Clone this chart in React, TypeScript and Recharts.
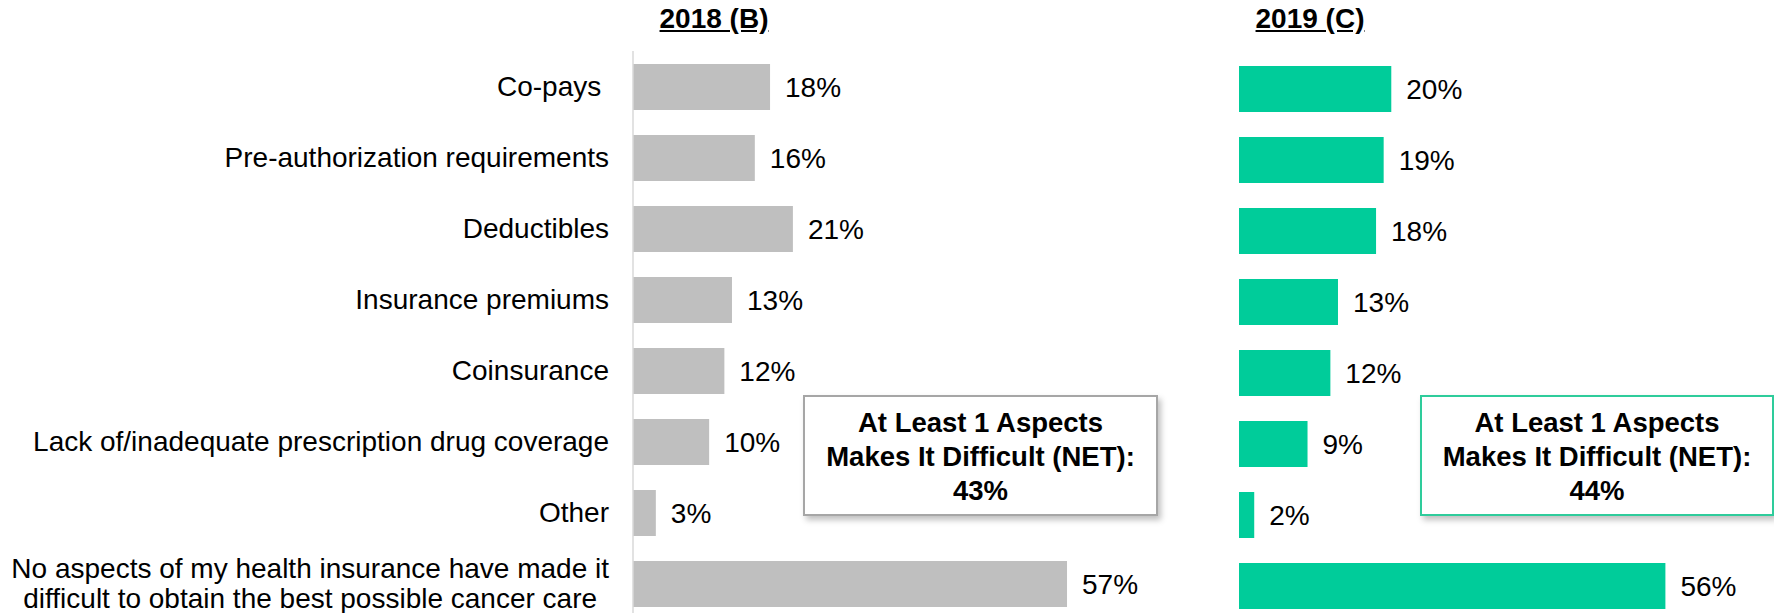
import { Bar, BarChart, LabelList, XAxis, YAxis } from "recharts";

const FONT = '"Liberation Sans", Arial, Helvetica, sans-serif';
const FS = 28;
const BOX_FS = 27.5;

// categories (multi-line label split by \n)
const categories = [
  "Co-pays ",
  "Pre-authorization requirements",
  "Deductibles",
  "Insurance premiums",
  "Coinsurance",
  "Lack of/inadequate prescription drug coverage",
  "Other",
  "No aspects of my health insurance have made it\ndifficult to obtain the best possible cancer care",
];
const values2018 = [18, 16, 21, 13, 12, 10, 3, 57];
const values2019 = [20, 19, 18, 13, 12, 9, 2, 56];
const panelTitles = ["2018 (B)", "2019 (C)"];
const netValues = [43, 44];
const netLines = ["At Least 1 Aspects", "Makes It Difficult (NET):"];

const GRAY = "#BFBFBF";
const GREEN = "#00CC9A";

const rows = categories.map((category, i) => ({
  category,
  y2018: values2018[i],
  y2019: values2019[i],
}));

let measureCtx: CanvasRenderingContext2D | null = null;
function measure(text: string) {
  if (!measureCtx) measureCtx = document.createElement("canvas").getContext("2d");
  if (!measureCtx) return text.length * 13;
  measureCtx.font = `${FS}px "Liberation Sans", Arial, sans-serif`;
  return measureCtx.measureText(text).width;
}

const CategoryTick = ({ x, y, payload }: any) => {
  const lines = String(payload.value).split("\n");
  if (lines.length === 1) {
    return (
      <text x={x} y={y} dy="0.355em" textAnchor="end" fontSize={FS} fontFamily={FONT} fill="#000" style={{ whiteSpace: "pre" }}>
        {lines[0]}
      </text>
    );
  }
  // multi-line labels are centered within their block, block is right-aligned
  const w = Math.max(...lines.map(measure));
  const cx = x - w / 2;
  const lh = 30;
  return (
    <text x={cx} y={y} textAnchor="middle" fontSize={FS} fontFamily={FONT} fill="#000">
      {lines.map((l, i) => (
        <tspan key={i} x={cx} dy={i === 0 ? -((lines.length - 1) * lh) / 2 + FS * 0.355 : lh}>
          {l}
        </tspan>
      ))}
    </text>
  );
};

const titleStyle = (center: number): React.CSSProperties => ({
  position: "absolute",
  left: center - 120,
  width: 240,
  top: 3,
  textAlign: "center",
  fontFamily: FONT,
  fontSize: FS,
  fontWeight: "bold",
  textDecoration: "underline",
  color: "#000",
});

const NetBox = ({ left, width, color, value }: { left: number; width: number; color: string; value: number }) => (
  <div
    style={{
      position: "absolute",
      left,
      top: 395,
      width,
      height: 121,
      boxSizing: "border-box",
      border: `2px solid ${color}`,
      background: "#fff",
      boxShadow: "3px 4px 6px rgba(0,0,0,0.25)",
      fontFamily: FONT,
      fontSize: BOX_FS,
      fontWeight: "bold",
      lineHeight: "34px",
      textAlign: "center",
      paddingTop: 9,
      color: "#000",
    }}
  >
    {netLines.map((l) => (
      <div key={l}>{l}</div>
    ))}
    <div>{value}%</div>
  </div>
);

export default function App() {
  return (
    <div style={{ position: "absolute", left: 0, top: 0, width: 1774, height: 613, overflow: "hidden", background: "#fff" }}>
      {/* 2018 */}
      <div style={{ position: "absolute", left: 0, top: 0 }}>
        <BarChart width={633 + 533} height={640} data={rows} layout="vertical" margin={{ top: 51, right: 0, bottom: 21, left: 0 }}>
          <XAxis type="number" domain={[0, 70]} hide />
          <YAxis
            type="category"
            dataKey="category"
            width={633}
            interval={0}
            tickLine={false}
            tickSize={0}
            tickMargin={24}
            axisLine={{ stroke: "#D9D9D9", strokeWidth: 1.5 }}
            tick={<CategoryTick />}
          />
          <Bar dataKey="y2018" fill={GRAY} barSize={46} isAnimationActive={false}>
            <LabelList
              dataKey="y2018"
              position="right"
              offset={15}
              formatter={(v: any) => `${v}%`}
              fill="#000"
              fontSize={FS}
              fontFamily={FONT}
            />
          </Bar>
        </BarChart>
      </div>

      {/* 2019 */}
      <div style={{ position: "absolute", left: 1239, top: 2 }}>
        <BarChart width={533} height={640} data={rows} layout="vertical" margin={{ top: 51, right: 0, bottom: 21, left: 0 }}>
          <XAxis type="number" domain={[0, 70]} hide />
          <YAxis type="category" dataKey="category" hide />
          <Bar dataKey="y2019" fill={GREEN} barSize={46} isAnimationActive={false}>
            <LabelList
              dataKey="y2019"
              position="right"
              offset={15}
              formatter={(v: any) => `${v}%`}
              fill="#000"
              fontSize={FS}
              fontFamily={FONT}
            />
          </Bar>
        </BarChart>
      </div>

      <div style={titleStyle(714)}>{panelTitles[0]}</div>
      <div style={titleStyle(1310)}>{panelTitles[1]}</div>

      <NetBox left={803} width={355} color="#A6A6A6" value={netValues[0]} />
      <NetBox left={1420} width={354} color="#2ECC9B" value={netValues[1]} />
    </div>
  );
}
